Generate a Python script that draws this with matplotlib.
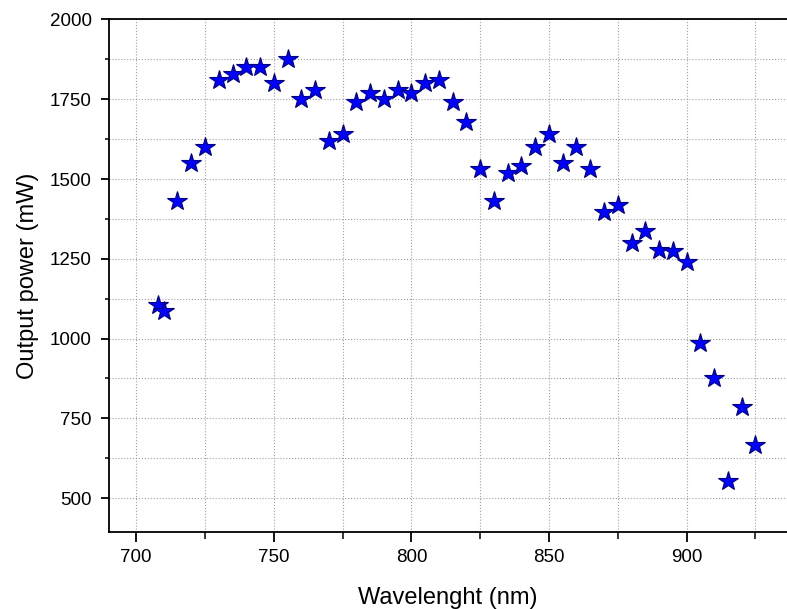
import matplotlib
matplotlib.use("Agg")
import matplotlib.pyplot as plt
from matplotlib.ticker import MultipleLocator

plt.rcParams['font.family'] = ['Liberation Sans', 'DejaVu Sans']

wavelength = [708, 710, 715, 720, 725, 730, 735, 740, 745, 750, 755, 760, 765,
              770, 775, 780, 785, 790, 795, 800, 805, 810, 815, 820, 825, 830,
              835, 840, 845, 850, 855, 860, 865, 870, 875, 880, 885, 890, 895,
              900, 905, 910, 915, 920, 925]
power = [1105, 1087, 1430, 1550, 1600, 1810, 1830, 1850, 1850, 1800, 1875, 1750, 1780,
         1620, 1640, 1740, 1770, 1750, 1780, 1770, 1800, 1810, 1740, 1680, 1530, 1430,
         1520, 1540, 1600, 1640, 1550, 1600, 1530, 1398, 1420, 1300, 1338, 1278, 1273,
         1240, 987, 877, 555, 786, 667]

fig = plt.figure(figsize=(7.87, 6.09), dpi=100)
ax = fig.add_axes([0.1381, 0.127, 0.8619, 0.841])

ax.plot(wavelength, power, ls='none', marker='*', ms=14.5,
        mfc='#0000ff', mec='#000080', mew=0.8, zorder=3)

ax.set_xlim(690, 936.5)
ax.set_ylim(395, 2000)
ax.xaxis.set_major_locator(MultipleLocator(50))
ax.xaxis.set_minor_locator(MultipleLocator(25))
ax.yaxis.set_major_locator(MultipleLocator(250))
ax.yaxis.set_minor_locator(MultipleLocator(125))

ax.grid(True, which='both', ls=':', color='#a0a0a0', lw=0.8)
ax.set_axisbelow(True)

ax.spines['right'].set_visible(False)
for s in ['left', 'bottom', 'top']:
    ax.spines[s].set_linewidth(1.3)

ax.tick_params(which='both', top=False, right=False, direction='out', labelsize=13.5)
ax.tick_params(axis='x', which='major', length=7, width=1.3, pad=5.5)
ax.tick_params(axis='x', which='minor', length=5, width=1.1)
ax.tick_params(axis='y', which='major', length=6, width=1.3, pad=6.2)
ax.tick_params(axis='y', which='minor', length=3, width=1.1)

ax.set_xlabel("Wavelenght (nm)", fontsize=17, labelpad=15)
ax.set_ylabel("Output power (mW)", fontsize=17, labelpad=8)

fig.savefig("out.png", dpi=100)
